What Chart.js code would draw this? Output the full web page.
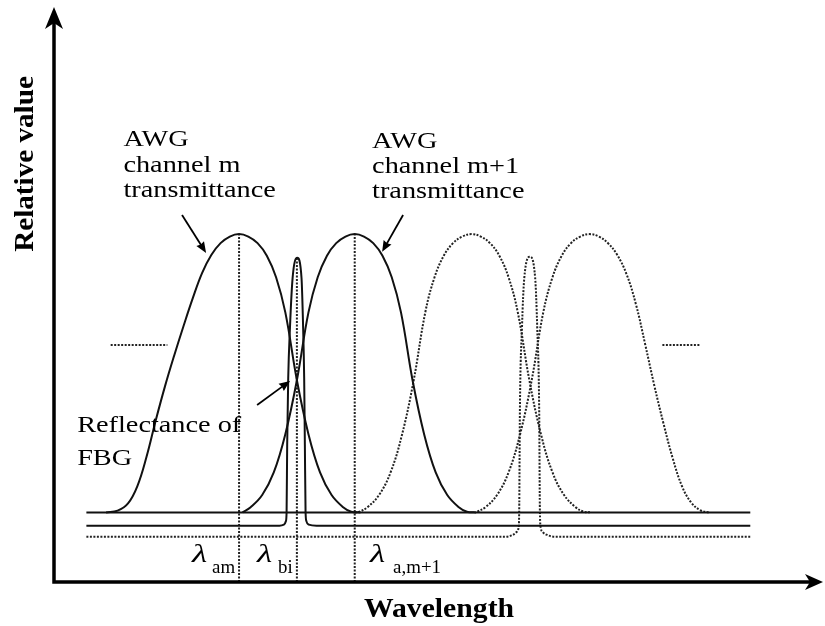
<!DOCTYPE html>
<html>
<head>
<meta charset="utf-8">
<title>AWG channels and FBG reflectance</title>
<script src="https://cdn.jsdelivr.net/npm/chart.js@4/dist/chart.umd.min.js"></script>
<style>
  html, body { margin: 0; padding: 0; background: #fff; overflow: hidden; }
  canvas { display: block; }
</style>
</head>
<body>
<canvas id="awg-chart" width="825" height="626"></canvas>
<script>
// wavelength in channel units (lambda_am = 1), relative value in % of AWG peak
const awgBase = [[-0.32, 20], [5.42, 20]];

// AWG channel m transmittance
const awgM = [
  [-0.15, 20], [-0.05, 20.5], [0.04, 22.6], [0.12, 27.5], [0.20, 36.0], [0.28, 46.5],
  [0.36, 56.3], [0.44, 65.2], [0.52, 73.6], [0.60, 81.6], [0.68, 88.8], [0.76, 94.0],
  [0.84, 97.4], [0.92, 99.3], [1.00, 100], [1.08, 99.3], [1.16, 97.4], [1.24, 93.8],
  [1.32, 87.6], [1.40, 77.5], [1.50, 58.0], [1.60, 42.5], [1.70, 31.5], [1.80, 25.0],
  [1.90, 21.5], [1.97, 20.2], [2.05, 20]
];

// AWG channel m+1 transmittance
const awgM1 = [
  [1.03, 20], [1.10, 21.5], [1.20, 25.0], [1.30, 31.5], [1.40, 42.5], [1.50, 58.0],
  [1.60, 77.5], [1.68, 87.6], [1.76, 93.8], [1.84, 97.4], [1.92, 99.3], [2.00, 100],
  [2.08, 99.3], [2.16, 97.4], [2.24, 93.8], [2.32, 87.6], [2.40, 77.5], [2.50, 58.0],
  [2.60, 42.5], [2.70, 31.5], [2.80, 25.0], [2.90, 21.5], [2.97, 20.2], [3.05, 20]
];

// next two channels (dotted)
const awgM2 = [
  [2.00, 20], [2.04, 20.2], [2.11, 21.5], [2.21, 25.0], [2.31, 31.5], [2.41, 42.5],
  [2.51, 58.0], [2.61, 77.5], [2.69, 87.6], [2.77, 93.8], [2.85, 97.4], [2.93, 99.3],
  [3.01, 100], [3.09, 99.3], [3.17, 97.4], [3.25, 93.8], [3.33, 87.6], [3.41, 77.5],
  [3.51, 58.0], [3.61, 42.5], [3.71, 31.5], [3.81, 25.0], [3.91, 21.5], [3.98, 20.2],
  [4.04, 20]
];
const awgM3 = [
  [3.06, 20.2], [3.13, 21.5], [3.23, 25.0], [3.33, 31.5], [3.43, 42.5], [3.53, 58.0],
  [3.63, 77.5], [3.71, 87.6], [3.79, 93.8], [3.87, 97.4], [3.95, 99.3], [4.03, 100],
  [4.11, 99.3], [4.19, 97.4], [4.27, 94.0], [4.35, 88.5], [4.43, 80.0], [4.51, 68.5],
  [4.59, 56.5], [4.67, 45.5], [4.75, 35.5], [4.83, 27.5], [4.91, 22.8], [4.99, 20.6],
  [5.06, 20]
];

// FBG reflectance, solid grating i and the dotted next one
const fbgI = [
  [-0.32, 16.2], [1.35, 16.2], [1.388, 16.5], [1.405, 17.5], [1.411, 20.2], [1.416, 39.4],
  [1.425, 58.6], [1.44, 73.0], [1.463, 87.4], [1.503, 93.2], [1.54, 87.4], [1.554, 73.0],
  [1.563, 58.6], [1.569, 39.4], [1.575, 20.2], [1.582, 17.5], [1.603, 16.5], [1.67, 16.2],
  [5.42, 16.2]
];
const fbgNext = [
  [-0.32, 13.0], [3.293, 13.0], [3.365, 13.5], [3.401, 14.4], [3.416, 15.5], [3.422, 20.2],
  [3.428, 49.0], [3.446, 73.0], [3.466, 87.4], [3.515, 93.5], [3.56, 87.4], [3.578, 73.0],
  [3.595, 49.0], [3.601, 20.1], [3.609, 15.5], [3.625, 14.4], [3.666, 13.5], [3.733, 13.0],
  [5.42, 13.0]
];

// "more channels" dashes on both sides
const moreLeft = [[-0.11, 68.1], [0.38, 68.1]];
const moreRight = [[4.66, 68.1], [4.99, 68.1]];

// centre wavelengths marked on the axis
const lambdaPos = [1.0, 1.5, 2.0];
const lambdaTop = [100, 93.2, 100];
const lambdaSub = ['am', 'bi', 'a,m+1'];

const INK = '#000';
const SERIF = "'Liberation Serif', 'Times New Roman', serif";

const pts = arr => arr.map(([x, y]) => ({ x, y }));
const solid = arr => ({ data: pts(arr), borderColor: '#111', borderWidth: 2 });
const dotted = arr => ({ data: pts(arr), borderColor: '#222', borderWidth: 2, borderDash: [2, 1.5] });
const straight = ds => Object.assign(ds, { tension: 0, cubicInterpolationMode: 'default' });
const smooth = ds => Object.assign(ds, { tension: 0.4, cubicInterpolationMode: 'default' });

const datasets = [
  straight(solid(awgBase)),
  smooth(solid(awgM)),
  smooth(solid(awgM1)),
  smooth(dotted(awgM2)),
  smooth(dotted(awgM3)),
  solid(fbgI),
  dotted(fbgNext),
  straight(dotted(moreLeft)),
  straight(dotted(moreRight)),
  ...lambdaPos.map((x, i) => straight(dotted([[x, 0], [x, lambdaTop[i]]])))
];

// text and pointer positions, in data units
const notes = [
  { text: 'AWG', x: 0.0, y: 125.3 },
  { text: 'channel m', x: 0.0, y: 117.8 },
  { text: 'transmittance', x: 0.0, y: 110.7 },
  { text: 'AWG', x: 2.15, y: 124.7 },
  { text: 'channel m+1', x: 2.15, y: 117.6 },
  { text: 'transmittance', x: 2.15, y: 110.4 },
  { text: 'Reflectance of', x: -0.40, y: 43.1 },
  { text: 'FBG', x: -0.40, y: 33.6 }
];
const pointers = [
  { from: [0.507, 105.5], to: [0.715, 94.6] },
  { from: [2.418, 105.5], to: [2.237, 94.9] },
  { from: [1.156, 50.9], to: [1.441, 57.8] }
];
const lambdaLabelX = [[0.594, 0.767], [1.156, 1.337], [2.133, 2.332]];

function head(ctx, tx, ty, ux, uy, len, half, notch) {
  const bx = tx - ux * len, by = ty - uy * len;
  ctx.beginPath();
  ctx.moveTo(tx, ty);
  ctx.lineTo(bx - uy * half, by + ux * half);
  ctx.lineTo(tx - ux * (len - notch), ty - uy * (len - notch));
  ctx.lineTo(bx + uy * half, by - ux * half);
  ctx.closePath();
  ctx.fill();
}

function write(ctx, str, px, py, font, sx, align) {
  ctx.save();
  ctx.font = font;
  ctx.textAlign = align || 'left';
  ctx.textBaseline = 'alphabetic';
  ctx.translate(px, py);
  ctx.scale(sx, 1);
  ctx.fillText(str, 0, 0);
  ctx.restore();
}

const sketch = {
  id: 'sketch',
  afterDraw(chart) {
    const { ctx, chartArea: a, scales: { x, y } } = chart;
    ctx.save();
    ctx.strokeStyle = '#000';
    ctx.fillStyle = '#000';

    // axes with arrowheads
    ctx.lineWidth = 3.5;
    ctx.beginPath();
    ctx.moveTo(a.left, a.bottom + 1.75);
    ctx.lineTo(a.left, a.top + 15);
    ctx.moveTo(a.left - 1.75, a.bottom);
    ctx.lineTo(a.right - 12, a.bottom);
    ctx.stroke();
    head(ctx, a.left, a.top - 1, 0, -1, 22, 9, 6);
    head(ctx, a.right + 1, a.bottom, 1, 0, 18, 8, 5);

    // pointers
    ctx.lineWidth = 1.8;
    ctx.fillStyle = INK;
    ctx.strokeStyle = INK;
    pointers.forEach(p => {
      const x0 = x.getPixelForValue(p.from[0]), y0 = y.getPixelForValue(p.from[1]);
      const x1 = x.getPixelForValue(p.to[0]), y1 = y.getPixelForValue(p.to[1]);
      const d = Math.hypot(x1 - x0, y1 - y0), ux = (x1 - x0) / d, uy = (y1 - y0) / d;
      ctx.beginPath();
      ctx.moveTo(x0, y0);
      ctx.lineTo(x1 - ux * 8, y1 - uy * 8);
      ctx.stroke();
      head(ctx, x1, y1, ux, uy, 11, 4.5, 1);
    });

    // curve labels
    notes.forEach(n => {
      write(ctx, n.text, x.getPixelForValue(n.x), y.getPixelForValue(n.y), `23px ${SERIF}`, 1.23);
    });

    // lambda labels under the curves
    lambdaSub.forEach((sub, i) => {
      const [lx, sx] = lambdaLabelX[i];
      write(ctx, 'λ', x.getPixelForValue(lx), y.getPixelForValue(5.75), `italic 26px ${SERIF}`, 1.35);
      write(ctx, sub, x.getPixelForValue(sx), y.getPixelForValue(2.6), `18px ${SERIF}`, 1.05);
    });

    // axis titles
    write(ctx, 'Wavelength', (a.left + a.right) / 2 + 1, a.bottom + 35, `bold 27px ${SERIF}`, 1.1, 'center');
    ctx.save();
    ctx.translate(a.left - 21, a.top + 156);
    ctx.rotate(-Math.PI / 2);
    write(ctx, 'Relative value', 0, 0, `bold 27px ${SERIF}`, 1.08, 'center');
    ctx.restore();

    ctx.restore();
  }
};

new Chart(document.getElementById('awg-chart'), {
  type: 'line',
  data: { datasets },
  options: {
    responsive: false,
    animation: false,
    layout: { padding: { left: 54, right: 3, top: 8, bottom: 44 } },
    plugins: { legend: { display: false }, tooltip: { enabled: false } },
    elements: {
      point: { radius: 0, hoverRadius: 0 },
      line: { cubicInterpolationMode: 'monotone', fill: false, borderCapStyle: 'butt' }
    },
    scales: {
      x: { type: 'linear', min: -0.6, max: 6.04, display: false },
      y: { type: 'linear', min: 0, max: 165, display: false }
    }
  },
  plugins: [sketch]
});
</script>
</body>
</html>
